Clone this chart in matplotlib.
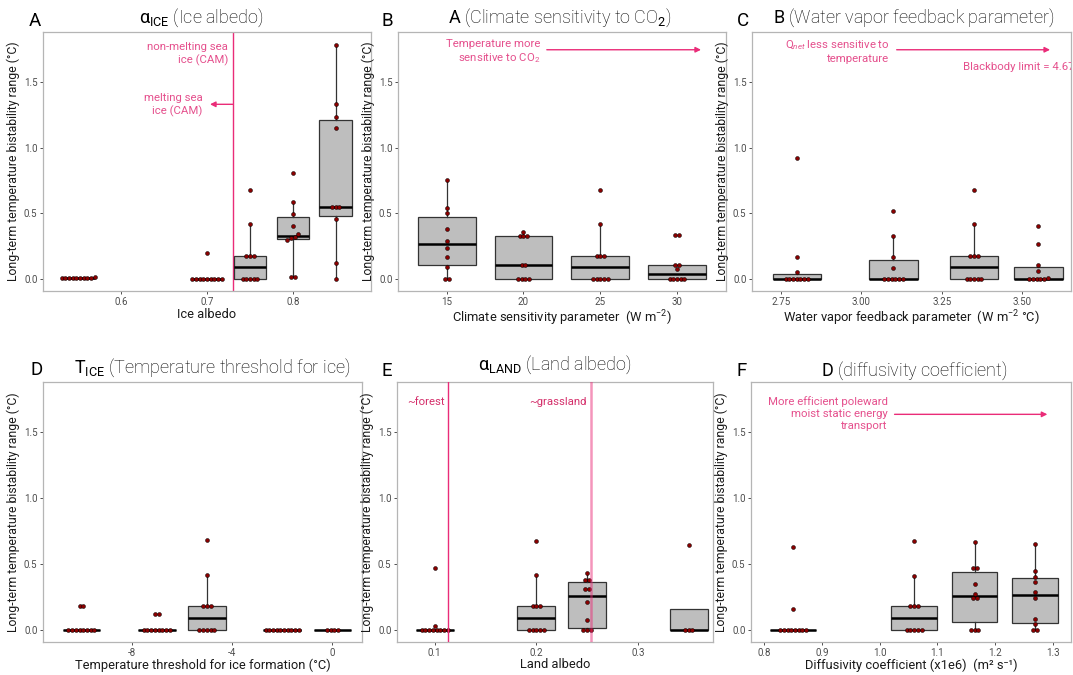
import numpy as np
import matplotlib
matplotlib.use('Agg')
import matplotlib.pyplot as plt

# ---------------- data ----------------
ice_albedo_x = [0.55, 0.70, 0.75, 0.80, 0.85]
ice_albedo_vals = [
    [0.01, 0.01, 0.01, 0.01, 0.02, 0.01, 0.01, 0.01, 0.01, 0.01],
    [0.0, 0.0, 0.0, 0.0, 0.0, 0.0, 0.0, 0.0, 0.0, 0.20],
    [0.0, 0.0, 0.0, 0.0, 0.0, 0.18, 0.18, 0.18, 0.42, 0.68],
    [0.018, 0.018, 0.30, 0.31, 0.32, 0.34, 0.405, 0.497, 0.587, 0.809],
    [0.0, 0.12, 0.46, 0.55, 0.55, 0.55, 1.15, 1.23, 1.33, 1.78],
]

climate_sens_x = [15, 20, 25, 30]
climate_sens_vals = [
    [0.0, 0.0, 0.089, 0.166, 0.237, 0.293, 0.385, 0.503, 0.541, 0.755],
    [0.0, 0.0, 0.0, 0.0, 0.105, 0.105, 0.33, 0.33, 0.33, 0.36],
    [0.0, 0.0, 0.0, 0.0, 0.0, 0.18, 0.18, 0.18, 0.42, 0.68],
    [0.0, 0.0, 0.0, 0.0, 0.0, 0.077, 0.11, 0.11, 0.337, 0.337],
]

water_vapor_x = [2.80, 3.10, 3.35, 3.55]
water_vapor_vals = [
    [0.0, 0.0, 0.0, 0.0, 0.0, 0.0, 0.0, 0.056, 0.166, 0.918],
    [0.0, 0.0, 0.0, 0.0, 0.0, 0.0, 0.082, 0.171, 0.327, 0.515],
    [0.0, 0.0, 0.0, 0.0, 0.0, 0.18, 0.18, 0.18, 0.42, 0.68],
    [0.0, 0.0, 0.0, 0.0, 0.0, 0.01, 0.059, 0.105, 0.265, 0.403],
]

t_ice_x = [-10, -7, -5, -2, 0]
t_ice_vals = [
    [0.0, 0.0, 0.0, 0.0, 0.0, 0.0, 0.0, 0.0, 0.18, 0.18],
    [0.0, 0.0, 0.0, 0.0, 0.0, 0.0, 0.0, 0.0, 0.122, 0.122],
    [0.0, 0.0, 0.0, 0.0, 0.0, 0.18, 0.18, 0.18, 0.42, 0.68],
    [0.0, 0.0, 0.0, 0.0, 0.0, 0.0, 0.0, 0.0, 0.0, 0.0],
    [0.0, 0.0, 0.0, 0.0],
]

land_albedo_x = [0.10, 0.20, 0.25, 0.35]
land_albedo_vals = [
    [0.0, 0.0, 0.0, 0.0, 0.0, 0.0, 0.0, 0.0, 0.033, 0.467],
    [0.0, 0.0, 0.0, 0.0, 0.0, 0.18, 0.18, 0.18, 0.416, 0.678],
    [0.0, 0.0, 0.0, 0.079, 0.21, 0.312, 0.312, 0.38, 0.38, 0.434],
    [0.0, 0.0, 0.0, 0.642],
]

diffusivity_x = [0.85, 1.06, 1.165, 1.27]
diffusivity_vals = [
    [0.0, 0.0, 0.0, 0.0, 0.0, 0.0, 0.0, 0.0, 0.157, 0.632],
    [0.0, 0.0, 0.0, 0.0, 0.0, 0.18, 0.18, 0.18, 0.411, 0.675],
    [0.0, 0.0, 0.0, 0.241, 0.241, 0.27, 0.35, 0.467, 0.467, 0.67],
    [0.0, 0.0, 0.043, 0.086, 0.241, 0.287, 0.365, 0.40, 0.447, 0.655],
]

y_ticks = [0.0, 0.5, 1.0, 1.5]
y_ticklabels = ["0.0", "0.5", "1.0", "1.5"]

# ---------------- style ----------------
plt.rcParams['font.family'] = ['Roboto', 'DejaVu Sans']
plt.rcParams['mathtext.fontset'] = 'custom'
plt.rcParams['mathtext.rm'] = 'Roboto'
plt.rcParams['mathtext.it'] = 'Roboto:italic'
plt.rcParams['mathtext.bf'] = 'Roboto:bold'

PINK = '#EA2C78'
PINK_TXT = '#E5508D'
PINK_TXT2 = '#D42E6A'
BOX_FACE = '#BEBEBE'
BOX_EDGE = '#333333'
DOT = '#8B0000'
SPINE = '#B5B5B5'
TICKLAB = '#4D4D4D'

W, H = 1073, 675
fig = plt.figure(figsize=(W / 100, H / 100), dpi=100)


def add_ax(x0, y0, x1, y1):
    return fig.add_axes([x0 / W, 1 - y1 / H, (x1 - x0) / W, (y1 - y0) / H])


def swarm_offsets(vals, spacing, tol=0.025):
    vals = np.asarray(vals, float)
    order = np.argsort(vals, kind='stable')
    rows = []
    for i in order:
        if rows and abs(vals[i] - vals[rows[-1][-1]]) <= tol:
            rows[-1].append(i)
        else:
            rows.append([i])
    offs = np.zeros(len(vals))
    for r in rows:
        n = len(r)
        for k, i in enumerate(r):
            offs[i] = (k - (n - 1) / 2) * spacing
    return offs


def panel(ax, xs, vals, xlim, xticks, xticklabels, xlabel, bw, whis_over=None,
          xlabelpad=1.0):
    ax.set_xlim(*xlim)
    ax.set_ylim(-0.09, 1.88)
    px_w = ax.get_position().width * W
    spacing = 3.7 * (xlim[1] - xlim[0]) / px_w
    for gi, (x, v) in enumerate(zip(xs, vals)):
        wh = 1.5
        if whis_over and gi in whis_over:
            wh = whis_over[gi]
        ax.boxplot([v], positions=[x], widths=bw, whis=wh, patch_artist=True,
                   showfliers=False, showcaps=False, manage_ticks=False,
                   boxprops=dict(facecolor=BOX_FACE, edgecolor=BOX_EDGE, linewidth=0.9),
                   medianprops=dict(color='black', linewidth=1.8),
                   whiskerprops=dict(color=BOX_EDGE, linewidth=0.9), zorder=2)
        offs = swarm_offsets(v, spacing)
        ax.scatter(np.full(len(v), x) + offs, v, s=8, color=DOT,
                   edgecolors='black', linewidths=0.35, zorder=3)
    ax.set_xticks(xticks)
    ax.set_xticklabels(xticklabels)
    ax.set_yticks(y_ticks)
    ax.set_yticklabels(y_ticklabels)
    ax.tick_params(axis='both', labelsize=7, labelcolor=TICKLAB, color='#333333',
                   length=2.2, width=0.6, pad=1.8)
    for sp in ax.spines.values():
        sp.set_color(SPINE)
        sp.set_linewidth(0.9)
    ax.set_xlabel(xlabel, fontsize=9.3, labelpad=xlabelpad, color='#1A1A1A')
    ax.set_ylabel('Long-term temperature bistability range (°C)', fontsize=8.8,
                  labelpad=2.5, color='#1A1A1A')


def arrow(ax, x0, x1, y):
    ax.annotate('', xy=(x1, y), xytext=(x0, y),
                arrowprops=dict(arrowstyle='-|>', color=PINK, lw=1.0,
                                mutation_scale=8, shrinkA=0, shrinkB=0), zorder=4)


TXT = dict(fontsize=8.2, color=PINK_TXT, linespacing=1.25)

# ---- Panel A ----
axA = add_ax(43, 32, 371, 291)
panel(axA, ice_albedo_x, ice_albedo_vals, (0.509, 0.891), [0.6, 0.7, 0.8],
      ['0.6', '0.7', '0.8'], 'Ice albedo', 0.038, whis_over={3: (0, 90)})
axA.axvline(0.73, color=PINK, lw=1.0, zorder=1.5)
axA.text(0.7248, 1.715, 'non-melting sea\nice (CAM)', ha='right', va='center', **TXT)
axA.text(0.695, 1.324, 'melting sea\nice (CAM)', ha='right', va='center', **TXT)
arrow(axA, 0.73, 0.7035, 1.33)

# ---- Panel B ----
axB = add_ax(398, 32, 726, 291)
panel(axB, climate_sens_x, climate_sens_vals, (11.82, 33.2), [15, 20, 25, 30],
      ['15', '20', '25', '30'], r'Climate sensitivity parameter  (W m$^{-2}$)', 3.75)
axB.text(21.08, 1.73, 'Temperature more\nsensitive to CO$_2$', ha='right', va='center', **TXT)
arrow(axB, 21.52, 31.57, 1.745)

# ---- Panel C ----
axC = add_ax(752, 32, 1071, 291)
panel(axC, water_vapor_x, water_vapor_vals, (2.661, 3.651), [2.75, 3.00, 3.25, 3.50],
      ['2.75', '3.00', '3.25', '3.50'],
      r'Water vapor feedback parameter  (W m$^{-2}$ °C)', 0.15)
axC.text(3.087, 1.733, 'Q$_{net}$ less sensitive to\ntemperature', ha='right', va='center', **TXT)
arrow(axC, 3.11, 3.586, 1.745)
tb = axC.text(3.316, 1.61, 'Blackbody limit = 4.67', ha='left', va='center', **TXT)
tb.set_clip_on(True)

# ---- Panel D ----
axD = add_ax(43, 382, 362, 642)
panel(axD, t_ice_x, t_ice_vals, (-11.53, 1.18), [-8, -4, 0], ['-8', '-4', '0'],
      'Temperature threshold for ice formation (°C)', 1.5, xlabelpad=0.5)

# ---- Panel E ----
axE = add_ax(397, 382, 713, 642)
panel(axE, land_albedo_x, land_albedo_vals, (0.0629, 0.374), [0.1, 0.2, 0.3],
      ['0.1', '0.2', '0.3'], 'Land albedo', 0.0375, xlabelpad=0.5)
axE.axvline(0.1134, color=PINK, lw=1.0, zorder=4)
axE.axvline(0.2535, color=PINK, lw=1.8, alpha=0.5, zorder=4)
TXT2 = dict(TXT)
TXT2['color'] = PINK_TXT2
axE.text(0.1101, 1.73, '~forest', ha='right', va='center', **TXT2)
axE.text(0.2502, 1.73, '~grassland', ha='right', va='center', **TXT2)

# ---- Panel F ----
axF = add_ax(751, 382, 1071, 642)
panel(axF, diffusivity_x, diffusivity_vals, (0.777, 1.332),
      [0.8, 0.9, 1.0, 1.1, 1.2, 1.3], ['0.8', '0.9', '1.0', '1.1', '1.2', '1.3'],
      'Diffusivity coefficient (x1e6)  (m² s⁻¹)', 0.079, xlabelpad=0.5)
axF.text(1.014, 1.64, 'More efficient poleward\nmoist static energy\ntransport',
         ha='right', va='center', **TXT)
arrow(axF, 1.026, 1.291, 1.635)

# ---- titles and panel letters ----
titles = [
    (201, 23, r'$\mathrm{α}_{\mathrm{ICE}}$ (Ice albedo)'),
    (560, 23, r'$\mathrm{A}$ (Climate sensitivity to CO$_2$)'),
    (914, 23, r'$\mathrm{B}$ (Water vapor feedback parameter)'),
    (212, 373, r'$\mathrm{T}_{\mathrm{ICE}}$ (Temperature threshold for ice)'),
    (555, 370, r'$\mathrm{α}_{\mathrm{LAND}}$ (Land albedo)'),
    (914, 376, r'$\mathrm{D}$ (diffusivity coefficient)'),
]
for x, y, t in titles:
    fig.text(x / W, 1 - y / H, t, ha='center', va='baseline', fontsize=13,
             fontweight='light')

letters = [(35, 21.5, 'A'), (387.5, 21.5, 'B'), (743, 21.5, 'C'),
           (37, 369.5, 'D'), (387, 371.5, 'E'), (742, 371.5, 'F')]
for x, y, t in letters:
    fig.text(x / W, 1 - y / H, t, ha='center', va='center', fontsize=13.5)

fig.savefig('out.png', dpi=100)
